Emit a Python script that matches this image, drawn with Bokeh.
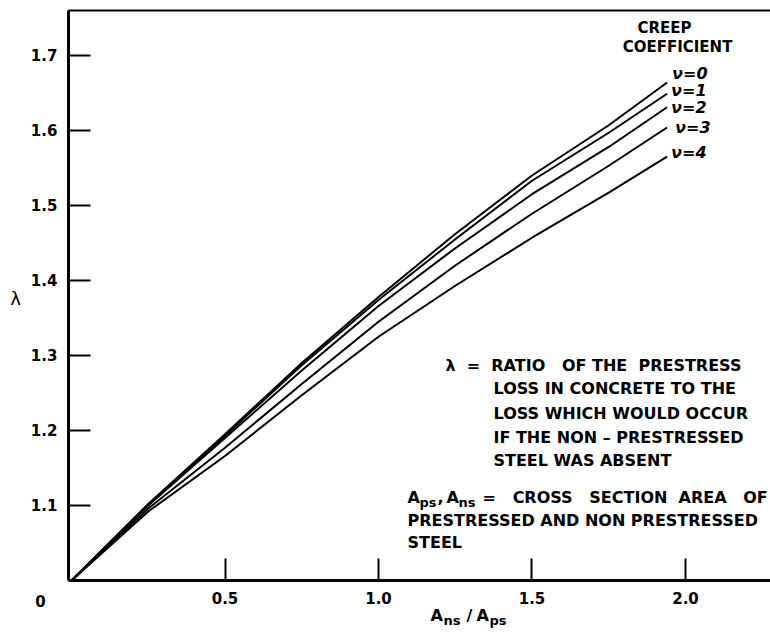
from bokeh.plotting import figure
from bokeh.models import Range1d, FixedTicker, LinearAxis, Label, CustomJSTickFormatter
from bokeh.embed import file_html
from bokeh.resources import INLINE

# ---------------- data ----------------
x_ratio = [0.0, 0.25, 0.5, 0.75, 1.0, 1.25, 1.5, 1.75, 1.94]
lam_v0 = [1.0, 1.102, 1.195, 1.290, 1.378, 1.462, 1.540, 1.607, 1.664]
lam_v1 = [1.0, 1.101, 1.193, 1.287, 1.374, 1.455, 1.533, 1.597, 1.649]
lam_v2 = [1.0, 1.100, 1.190, 1.280, 1.366, 1.443, 1.515, 1.578, 1.631]
lam_v3 = [1.0, 1.096, 1.177, 1.262, 1.345, 1.420, 1.489, 1.553, 1.604]
lam_v4 = [1.0, 1.092, 1.166, 1.247, 1.325, 1.393, 1.457, 1.517, 1.565]
series = [lam_v0, lam_v1, lam_v2, lam_v3, lam_v4]
creep_labels = ["ν=0", "ν=1", "ν=2", "ν=3", "ν=4"]

x_ticks = [0.5, 1.0, 1.5, 2.0]
x_tick_labels = ["0.5", "1.0", "1.5", "2.0"]
y_ticks = [1.1, 1.2, 1.3, 1.4, 1.5, 1.6, 1.7]
y_tick_labels = ["1.1", "1.2", "1.3", "1.4", "1.5", "1.6", "1.7"]

FONT = "DejaVu Sans"

# frame covers the whole canvas; axes are drawn at fixed locations
X0, X1 = -0.2313, 2.2769
Y0, Y1 = 0.9293, 1.7733
X_SPINE = -0.01
Y_TOP = 1.76

p = figure(width=770, height=633, output_backend="svg", toolbar_location=None,
           x_range=Range1d(X0, X1), y_range=Range1d(Y0, Y1),
           x_axis_location=None, y_axis_location=None,
           min_border_left=0, min_border_right=0, min_border_top=0, min_border_bottom=0)
p.outline_line_color = None
p.xgrid.grid_line_color = None
p.ygrid.grid_line_color = None
p.background_fill_color = "white"
p.border_fill_color = "white"

yaxis = LinearAxis(ticker=FixedTicker(ticks=y_ticks), fixed_location=X_SPINE, bounds=(1.0, Y_TOP),
                   formatter=CustomJSTickFormatter(args=dict(labels=y_tick_labels), code="return labels[index];"),
                   major_tick_in=22, major_tick_out=0, minor_tick_line_color=None,
                   axis_line_width=3, major_tick_line_width=2,
                   major_label_standoff=11, major_label_text_font=FONT,
                   major_label_text_font_style="bold",
                   major_label_text_font_size="15px", major_label_text_color="black")
p.add_layout(yaxis, "left")

xaxis = LinearAxis(ticker=FixedTicker(ticks=x_ticks), fixed_location=1.0, bounds=(X_SPINE, X1),
                   formatter=CustomJSTickFormatter(args=dict(labels=x_tick_labels), code="return labels[index];"),
                   major_tick_in=22, major_tick_out=0, minor_tick_line_color=None,
                   axis_line_width=3, major_tick_line_width=2,
                   major_label_standoff=12, major_label_text_font=FONT,
                   major_label_text_font_style="bold",
                   major_label_text_font_size="15px", major_label_text_color="black")
p.add_layout(xaxis, "below")

top_axis = LinearAxis(ticker=FixedTicker(ticks=[]), fixed_location=Y_TOP, bounds=(X_SPINE, X1),
                      major_tick_in=0, major_tick_out=0,
                      minor_tick_line_color=None, major_label_text_font_size="0px",
                      axis_line_width=2)
p.add_layout(top_axis, "above")

for ys in series:
    p.line(x_ratio, ys, line_width=2, line_color="black", line_join="round")

# curve end labels
end_dx = [5, 4, 4, 8, 4]
end_dy = [9, 3, 0, 0, 4]
for lab, ys, dx, dy in zip(creep_labels, series, end_dx, end_dy):
    p.add_layout(Label(x=x_ratio[-1], y=ys[-1], x_offset=dx, y_offset=dy, text=lab,
                       text_font=FONT, text_font_style="bold italic", text_font_size="16px",
                       text_baseline="middle", text_align="left", text_color="black"))

def txt(x, y, s, size="16px", align="left", dx=0, dy=0, style="bold"):
    p.add_layout(Label(x=x, y=y, x_offset=dx, y_offset=dy, text=s, text_font=FONT,
                       text_font_style=style, text_font_size=size,
                       text_baseline="middle", text_align=align, text_color="black"))

NB = "\u00a0"
txt(1.9316, 1.736, "CREEP", size="15px", align="center")
txt(1.974, 1.7107, "COEFFICIENT", size="15px", align="center")

txt(1.2182, 1.2867, "λ" + NB + " = " + NB + "RATIO" + NB + NB + " OF THE" + NB + " PRESTRESS")
txt(1.3746, 1.256, "LOSS IN CONCRETE TO THE")
txt(1.3746, 1.2227, "LOSS WHICH WOULD OCCUR")
txt(1.3746, 1.1907, "IF THE NON – PRESTRESSED")
txt(1.3746, 1.160, "STEEL WAS ABSENT")

# A_ps, A_ns = ...
txt(1.0945, 1.1107, "A")
txt(1.1336, 1.1107, "ps", size="13px", dy=-5)
txt(1.192, 1.1107, ",")
txt(1.2215, 1.1107, "A")
txt(1.2606, 1.1107, "ns", size="13px", dy=-5)
txt(1.3388, 1.1107, "=" + NB + NB + " CROSS" + NB + NB + " SECTION" + NB + " AREA" + NB + NB + " OF")
txt(1.0945, 1.080, "PRESTRESSED AND NON PRESTRESSED")
txt(1.0945, 1.0507, "STEEL")

# axis texts
txt(-0.101, 0.973, "0", size="15px", align="center")
txt(-0.182, 1.376, "λ", size="18px", align="center", style="normal")
txt(1.1694, 0.953, "A", size="16px")
txt(1.2117, 0.953, "ns", size="13px", dy=-5)
txt(1.2866, 0.953, "/", size="16px")
txt(1.3192, 0.953, "A", size="16px")
txt(1.3616, 0.953, "ps", size="13px", dy=-5)

open("out.html", "w").write(file_html(p, INLINE))
